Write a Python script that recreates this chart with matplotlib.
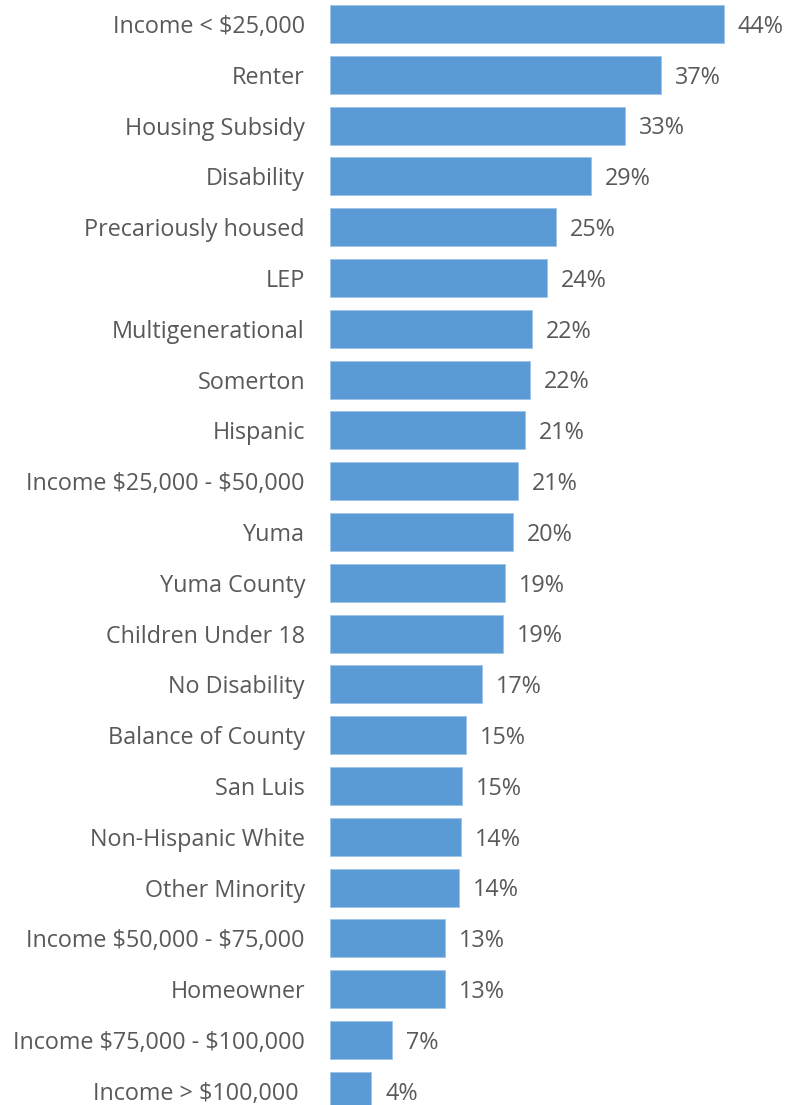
import matplotlib.pyplot as plt

# categories top to bottom and share (%)
categorias = [
    "Income < $25,000", "Renter", "Housing Subsidy", "Disability",
    "Precariously housed", "LEP", "Multigenerational", "Somerton",
    "Hispanic", "Income $25,000 - $50,000", "Yuma", "Yuma County",
    "Children Under 18", "No Disability", "Balance of County", "San Luis",
    "Non-Hispanic White", "Other Minority", "Income $50,000 - $75,000",
    "Homeowner", "Income $75,000 - $100,000", "Income > $100,000 ",
]
valores = [44.0, 37.0, 33.0, 29.2, 25.3, 24.3, 22.6, 22.3, 21.8, 21.0,
           20.5, 19.5, 19.3, 17.0, 15.2, 14.7, 14.6, 14.4, 12.9, 12.9,
           6.9, 4.6]
etiquetas = ["44%", "37%", "33%", "29%", "25%", "24%", "22%", "22%", "21%",
             "21%", "20%", "19%", "19%", "17%", "15%", "15%", "14%", "14%",
             "13%", "13%", "7%", "4%"]

plt.rcParams['font.family'] = ['Open Sans', 'DejaVu Sans']
plt.rcParams['text.parse_math'] = False
gris = '#595959'

fig = plt.figure(figsize=(7.91, 11.05), dpi=100)
ax = fig.add_axes([330 / 791, 0, 1 - 330 / 791, 1])

pos = list(range(len(categorias)))
ax.barh(pos, valores, height=0.75, color='#5B9BD5',
        edgecolor='#9DC3E6', linewidth=0.6)

for y, v, t in zip(pos, valores, etiquetas):
    ax.annotate(t, (v, y), xytext=(10, -2), textcoords='offset points',
                ha='left', va='center', fontsize=16.8, color=gris)

ax.set_yticks(pos)
ax.set_yticklabels(categorias, fontsize=16.8, color=gris)
ax.tick_params(axis='y', length=0, pad=18)
ax.set_xticks([])
ax.set_xlim(0, 461 / 8.95)
ax.set_ylim(21.28, -0.473)
for s in ax.spines.values():
    s.set_visible(False)

fig.savefig('out.png', dpi=100)
